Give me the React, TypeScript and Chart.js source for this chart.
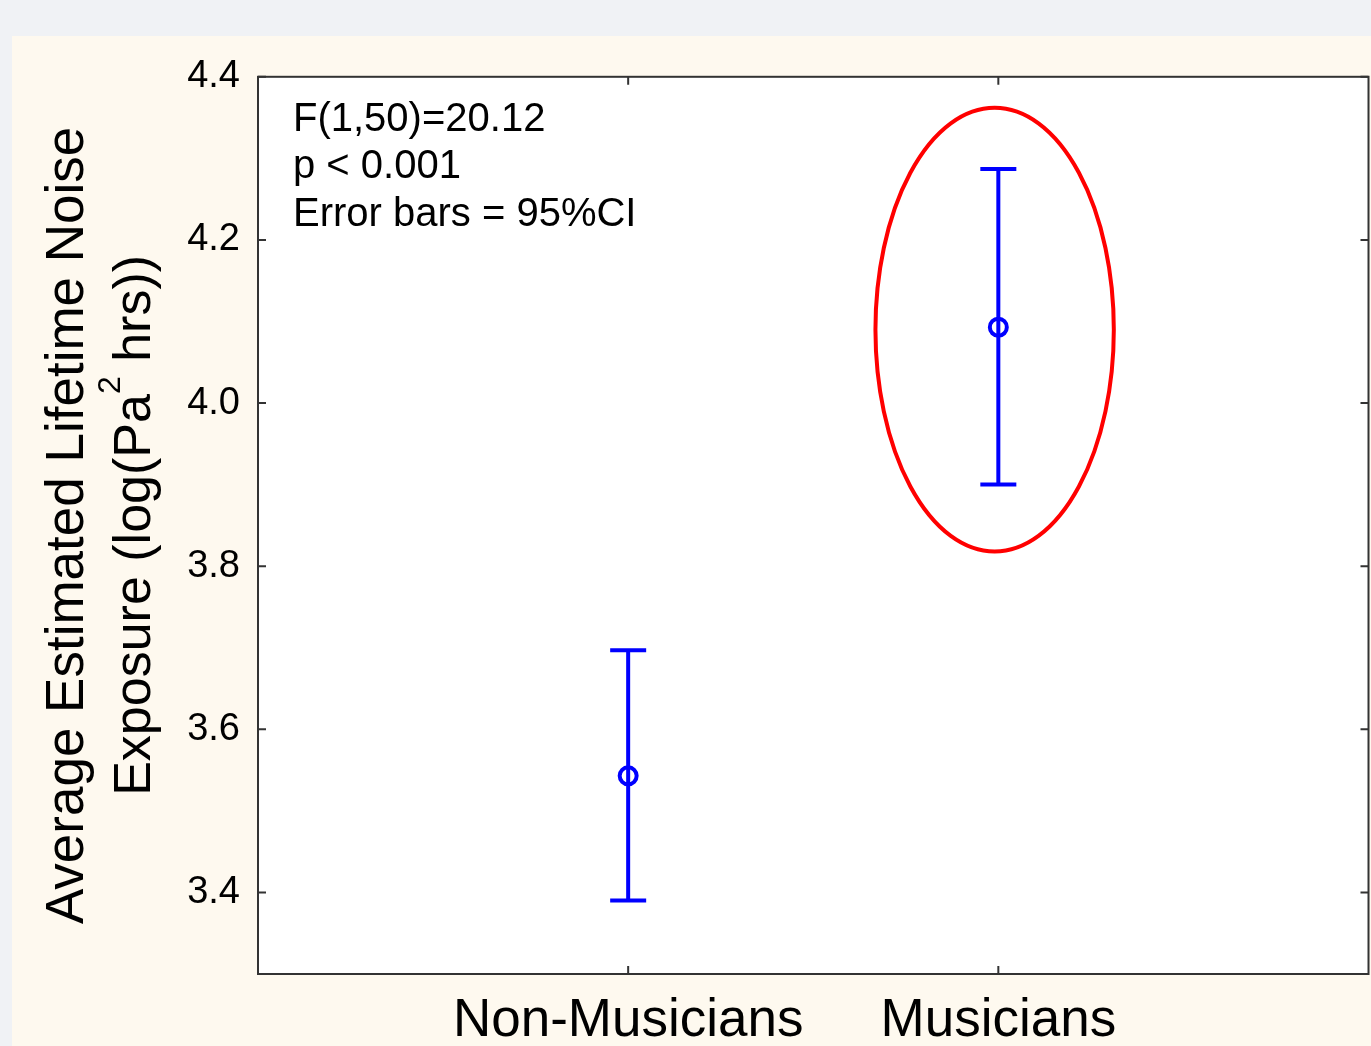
import React, { useEffect, useRef } from "react";
import { Chart, registerables } from "chart.js";

Chart.register(...registerables);

const categories = ["Non-Musicians", "Musicians"];
const means = [3.543, 4.093];
const lowerCI = [3.39, 3.9];
const upperCI = [3.697, 4.287];
const yTicks = [3.4, 3.6, 3.8, 4.0, 4.2, 4.4];
const annotationLines = ["F(1,50)=20.12", "p < 0.001", "Error bars = 95%CI"];
const yTitleLine1 = "Average Estimated Lifetime Noise";
const yTitleLine2 = ["Exposure (log(Pa", "2", " hrs))"];
// highlight ellipse (data units)
const ellipseCenter = { x: 1.99, y: 4.09 };
const ellipseRadii = { x: 0.322, y: 0.272 };

const FONT = "'Liberation Sans', Arial, sans-serif";

const customPlugin = {
  id: "custom",
  beforeDraw(chart: any) {
    const { ctx, chartArea: a } = chart;
    ctx.save();
    ctx.fillStyle = "#ffffff";
    ctx.fillRect(a.left, a.top, a.right - a.left, a.bottom - a.top);
    ctx.restore();
  },
  beforeDatasetsDraw(chart: any) {
    const { ctx } = chart;
    const xs = chart.scales.x;
    const ys = chart.scales.y;
    ctx.save();
    ctx.strokeStyle = "#0000ff";
    ctx.lineWidth = 4;
    for (let i = 0; i < categories.length; i++) {
      const x = xs.getPixelForValue(i + 1);
      const yl = ys.getPixelForValue(lowerCI[i]);
      const yu = ys.getPixelForValue(upperCI[i]);
      ctx.beginPath();
      ctx.moveTo(x, yl);
      ctx.lineTo(x, yu);
      ctx.moveTo(x - 18, yl);
      ctx.lineTo(x + 18, yl);
      ctx.moveTo(x - 18, yu);
      ctx.lineTo(x + 18, yu);
      ctx.stroke();
    }
    ctx.restore();
  },
  afterDraw(chart: any) {
    const { ctx, chartArea: a } = chart;
    const xs = chart.scales.x;
    const ys = chart.scales.y;
    ctx.save();
    // border
    ctx.strokeStyle = "#333333";
    ctx.lineWidth = 2;
    ctx.strokeRect(a.left, a.top, a.right - a.left, a.bottom - a.top);
    // tick marks inside
    ctx.beginPath();
    for (const v of yTicks) {
      const y = ys.getPixelForValue(v);
      ctx.moveTo(a.left, y);
      ctx.lineTo(a.left + 8, y);
      ctx.moveTo(a.right, y);
      ctx.lineTo(a.right - 8, y);
    }
    for (let i = 0; i < categories.length; i++) {
      const x = xs.getPixelForValue(i + 1);
      ctx.moveTo(x, a.bottom);
      ctx.lineTo(x, a.bottom - 8);
      ctx.moveTo(x, a.top);
      ctx.lineTo(x, a.top + 8);
    }
    ctx.stroke();

    // ellipse
    const cx = xs.getPixelForValue(ellipseCenter.x);
    const cy = ys.getPixelForValue(ellipseCenter.y);
    const rx = Math.abs(xs.getPixelForValue(ellipseCenter.x + ellipseRadii.x) - cx);
    const ry = Math.abs(ys.getPixelForValue(ellipseCenter.y + ellipseRadii.y) - cy);
    ctx.strokeStyle = "#ff0000";
    ctx.lineWidth = 4;
    ctx.beginPath();
    ctx.ellipse(cx, cy, rx, ry, 0, 0, Math.PI * 2);
    ctx.stroke();

    // annotation text
    ctx.fillStyle = "#000000";
    ctx.font = `40px ${FONT}`;
    ctx.textAlign = "left";
    ctx.textBaseline = "alphabetic";
    annotationLines.forEach((t, i) => {
      ctx.fillText(t, a.left + 35, a.top + 54 + i * 47.5);
    });

    // y title
    const midY = (a.top + a.bottom) / 2;
    ctx.save();
    ctx.translate(71, midY);
    ctx.rotate(-Math.PI / 2);
    ctx.font = `53px ${FONT}`;
    ctx.textAlign = "center";
    ctx.fillText(yTitleLine1, 0, 0);
    ctx.restore();

    ctx.save();
    ctx.translate(138, midY);
    ctx.rotate(-Math.PI / 2);
    ctx.textAlign = "left";
    const mainFont = `52px ${FONT}`;
    const supFont = `32px ${FONT}`;
    ctx.font = mainFont;
    const w0 = ctx.measureText(yTitleLine2[0]).width;
    const w2 = ctx.measureText(yTitleLine2[2]).width;
    ctx.font = supFont;
    const w1 = ctx.measureText(yTitleLine2[1]).width;
    let x = -(w0 + w1 + w2) / 2;
    ctx.font = mainFont;
    ctx.fillText(yTitleLine2[0], x, 0);
    x += w0;
    ctx.font = supFont;
    ctx.fillText(yTitleLine2[1], x, -30);
    x += w1;
    ctx.font = mainFont;
    ctx.fillText(yTitleLine2[2], x, 0);
    ctx.restore();

    ctx.restore();
  },
};

export default function App() {
  const ref = useRef<HTMLCanvasElement | null>(null);
  useEffect(() => {
    if (!ref.current) return;
    const chart = new Chart(ref.current, {
      type: "scatter",
      data: {
        datasets: [
          {
            data: means.map((m, i) => ({ x: i + 1, y: m })),
            pointStyle: "circle",
            pointRadius: 8.5,
            pointHoverRadius: 8.5,
            borderWidth: 4,
            pointBorderWidth: 4,
            borderColor: "#0000ff",
            pointBorderColor: "#0000ff",
            backgroundColor: "rgba(0,0,0,0)",
            pointBackgroundColor: "rgba(0,0,0,0)",
            showLine: false,
          } as any,
        ],
      },
      options: {
        animation: false,
        responsive: false,
        devicePixelRatio: 1,
        events: [],
        layout: { padding: { top: 40, right: 3, left: 0, bottom: 0 } },
        plugins: { legend: { display: false }, tooltip: { enabled: false } },
        scales: {
          x: {
            type: "linear",
            min: 0,
            max: 3,
            grid: { display: false, drawTicks: false },
            border: { display: false },
            afterBuildTicks: (s: any) => {
              s.ticks = categories.map((_, i) => ({ value: i + 1 }));
            },
            afterFit: (s: any) => {
              s.height = 72;
            },
            ticks: {
              callback: (v: any) => categories[Number(v) - 1] ?? "",
              font: { size: 53, family: FONT },
              color: "#000000",
              padding: 16,
              maxRotation: 0,
              autoSkip: false,
            },
          },
          y: {
            type: "linear",
            min: 3.3,
            max: 4.4,
            grid: { display: false, drawTicks: false },
            border: { display: false },
            afterBuildTicks: (s: any) => {
              s.ticks = yTicks.map((v) => ({ value: v }));
            },
            afterFit: (s: any) => {
              s.width = 246;
            },
            ticks: {
              callback: (v: any) => Number(v).toFixed(1),
              font: { size: 38, family: FONT },
              color: "#000000",
              padding: 18,
              autoSkip: false,
            },
          },
        },
      },
      plugins: [customPlugin],
    });
    return () => chart.destroy();
  }, []);

  return (
    <div style={{ position: "fixed", inset: 0, background: "#f0f2f5", overflow: "hidden" }}>
      <div
        style={{
          position: "absolute",
          left: 12,
          top: 36,
          right: 0,
          bottom: 0,
          background: "#fef9ef",
          overflow: "hidden",
        }}
      >
        <canvas ref={ref} width={1369} height={1010} style={{ display: "block" }} />
      </div>
    </div>
  );
}
